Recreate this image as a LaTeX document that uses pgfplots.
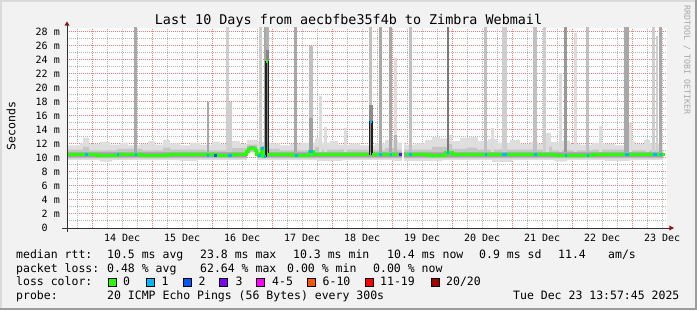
\documentclass[border=0pt]{standalone}
\usepackage{fontspec}
\setmainfont{DejaVu Sans Mono}
\usepackage{pgfplots}
\pgfplotsset{compat=1.18}
\definecolor{bgc}{HTML}{F2F2F2}
\definecolor{shadeA}{HTML}{DADADA}
\definecolor{shadeB}{HTML}{9C9C9C}
\definecolor{axcol}{HTML}{333333}
\definecolor{arrcol}{HTML}{8C1414}
\definecolor{majgridcol}{HTML}{EE7C7C}
\definecolor{mingridcol}{HTML}{B4B4B4}
\definecolor{smokeL}{HTML}{DEDEDE}
\definecolor{smokeM}{HTML}{C6C6C6}
\definecolor{smokeD}{HTML}{A2A2A2}
\definecolor{spkA}{HTML}{A8A8A8}
\definecolor{spkB}{HTML}{C0C0C0}
\definecolor{spkC}{HTML}{CECECE}
\definecolor{spkD}{HTML}{DCDCDC}
\definecolor{spkE}{HTML}{7A7A7A}
\definecolor{lc0}{HTML}{26FF00}
\definecolor{lc1}{HTML}{00B8FF}
\definecolor{lc2}{HTML}{0059FF}
\definecolor{lc3}{HTML}{7E00FF}
\definecolor{lc5}{HTML}{FF00FF}
\definecolor{lc10}{HTML}{FF5500}
\definecolor{lc19}{HTML}{FF0000}
\definecolor{lc20}{HTML}{A10000}
\newcommand{\tickfont}{\fontsize{10bp}{12bp}\selectfont}
\newcommand{\lgfont}{\fontsize{11.5bp}{14bp}\selectfont}
\newcommand{\ttlfont}{\fontsize{13.4bp}{16bp}\selectfont}
\begin{document}
\begin{tikzpicture}[x=1bp,y=1bp]
\fill[bgc] (0,0) rectangle (697,310);
\fill[shadeA] (0,308) rectangle (697,310);
\fill[shadeA] (0,0) rectangle (2,310);
\fill[shadeB] (0,0) rectangle (697,2);
\fill[shadeB] (695,0) rectangle (697,310);
% canvas and grid (behind the data)
\fill[white] (67,82) rectangle (667,282);
\foreach \k in {1,3,...,27}{\draw[mingridcol, line width=1bp, dash pattern=on 1bp off 1bp] (67,{82.5+7*\k}) -- (667,{82.5+7*\k});}
\foreach \xx in {77.5,107.5,122.5,137.5,167.5,182.5,197.5,227.5,242.5,257.5,287.5,302.5,317.5,347.5,362.5,377.5,407.5,422.5,437.5,467.5,482.5,497.5,527.5,542.5,557.5,587.5,602.5,617.5,647.5,662.5}{\draw[mingridcol, line width=1bp, dash pattern=on 1bp off 1bp] (\xx,82) -- (\xx,282);}
\foreach \k in {2,4,...,28}{\draw[majgridcol, line width=1bp, dash pattern=on 1bp off 1bp] (67,{82.5+7*\k}) -- (667,{82.5+7*\k});}
\foreach \xx in {92.5,152.5,212.5,272.5,332.5,392.5,452.5,512.5,572.5,632.5}{\draw[majgridcol, line width=1bp, dash pattern=on 1bp off 1bp] (\xx,82) -- (\xx,282);}
\begin{axis}[
  name=ax,
  at={(67bp,82bp)}, anchor=south west,
  scale only axis, width=600bp, height=200bp,
  xmin=0, xmax=240, ymin=0, ymax=28.5714,
  axis line style={draw=none},
  no markers,
  unbounded coords=jump,
  clip mode=individual,
  /pgf/number format/assume math mode=true,
  xtick={22.04,46.04,70.04,94.04,118.04,142.04,166.04,190.04,214.04,238.04},
  xticklabels={14 Dec,15 Dec,16 Dec,17 Dec,18 Dec,19 Dec,20 Dec,21 Dec,22 Dec,23 Dec},
  ytick={0,2,4,6,8,10,12,14,16,18,20,22,24,26,28},
  yticklabels={0\phantom{00},2 m,4 m,6 m,8 m,10 m,12 m,14 m,16 m,18 m,20 m,22 m,24 m,26 m,28 m},
  major tick length=0pt, minor tick length=0pt,
  xticklabel style={font=\tickfont, anchor=north, inner sep=0pt, yshift=-6bp},
  yticklabel style={font=\tickfont, anchor=east, inner sep=0pt, xshift=-7bp},
]
% ---- smoke: light band (upper edge, then lower edge backwards)
\addplot[fill=smokeL, draw=none, const plot] coordinates {
(0,11.8) (5.2,12.1) (6.4,12.9) (8.8,12.0) (13.2,12.3) (17.2,11.9) (21.2,12.2) (24.4,11.8)
(29.2,12.0) (32.4,12.4) (35.2,11.9) (38.4,12.6) (41.2,12.1) (45.2,11.8) (49.2,12.2) (53.2,11.9)
(58.0,12.3) (61.2,12.0) (66.0,12.4) (69.2,12.0) (72.0,12.6) (76.0,12.3) (81.2,12.1) (85.2,11.8)
(89.2,12.0) (93.2,12.2) (99.2,12.8) (102.0,12.2) (105.2,12.4) (108.4,11.9) (113.2,12.1) (117.2,11.8)
(123.2,12.1) (127.2,12.6) (132.4,12.2) (135.2,11.9) (139.2,12.1) (143.2,12.6) (146.0,13.0) (149.2,12.8)
(152.0,13.3) (154.0,12.4) (157.2,12.9) (161.2,13.0) (164.4,12.4) (168.4,12.7) (172.0,12.2) (177.2,12.6)
(181.2,12.0) (185.2,12.3) (188.4,12.0) (192.4,13.6) (193.6,12.3) (197.2,12.5) (201.2,12.0) (205.2,11.9)
(210.0,12.2) (214.8,12.0) (219.2,11.8) (223.2,12.4) (227.2,12.0) (230.8,12.6) (233.2,12.1) (238.4,12.1)
(238.4,9.7) (225,9.6) (215,9.7) (200,9.5) (195,9.7) (178,9.45) (170,9.7) (150,9.6) (130,9.75)
(110,9.6) (100,9.7) (76,10.85) (71.9,9.75) (52,9.6) (45,9.7) (18,9.5) (13,9.7) (0,9.7)};
% ---- smoke: middle band
\addplot[fill=smokeM, draw=none, const plot] coordinates {
(0,11.2) (6.4,11.6) (8.8,11.1) (20,11.3) (30,11.1) (38.4,11.5) (41.2,11.2) (55,11.1) (66,11.4)
(72,11.9) (76,11.3) (85,11.1) (99.2,11.6) (102,11.2) (120,11.1) (127.2,11.4) (132,11.2) (146,11.6)
(152,12.0) (154,11.3) (160,11.5) (164,11.2) (180,11.2) (192.4,11.6) (194,11.1) (210,11.2)
(223.2,11.4) (226,11.1) (238.4,11.1)
(238.4,9.95) (76,10.8) (71.9,9.95) (0,9.95)};
% ---- smoke: dark core
\addplot[fill=smokeD, draw=none, const plot] coordinates {
(0,10.8) (71.9,11.2) (72.6,11.7) (75.2,11.4) (75.9,10.8) (77.6,11.7) (78.6,10.8) (238.4,10.8)
(238.4,10.1) (75.9,10.8) (75.2,11.1) (72.6,10.7) (71.9,10.1) (0,10.1)};
% ---- smoke spikes
\addplot[draw=spkA, line width=3bp] coordinates {
(27.4,10.8) (27.4,30) (27.4,nan) (79.4,10.8) (79.4,30) (79.4,nan) (91.4,10.8) (91.4,30) (91.4,nan)
(125.4,10.8) (125.4,30) (125.4,nan) (129.4,10.8) (129.4,30) (129.4,nan) (237.4,10.8) (237.4,30)};
\addplot[draw=spkA, line width=2.5bp] coordinates {(56.4,10.8) (56.4,18.0)};
\addplot[draw=spkA, line width=5bp] coordinates {(223.8,10.8) (223.8,30)};
\addplot[draw=black!40, line width=3bp] coordinates {(199.4,10.8) (199.4,30)};
\addplot[draw=spkB, line width=3bp] coordinates {
(121.4,10.8) (121.4,30) (121.4,nan) (137.4,10.8) (137.4,30) (137.4,nan) (167.4,10.8) (167.4,30) (167.4,nan)
(208.2,10.8) (208.2,30)};
\addplot[draw=spkB, line width=4bp] coordinates {(97.6,10.8) (97.6,26.0)};
\addplot[draw=spkB, line width=3.5bp] coordinates {(187.2,10.8) (187.2,30)};
\addplot[draw=spkC, line width=3bp] coordinates {
(64.2,10.8) (64.2,30) (64.2,nan) (65.4,10.8) (65.4,18.0) (65.4,nan) (77.4,10.8) (77.4,30) (77.4,nan)
(190.8,10.8) (190.8,30) (190.8,nan) (234.6,10.8) (234.6,30)};
\addplot[draw=spkC, line width=2bp] coordinates {(235.8,10.8) (235.8,27.4)};
\addplot[draw=spkC, line width=5bp] coordinates {(175.0,10.8) (175.0,30)};
\addplot[draw=spkD, line width=3bp] coordinates {
(101.4,10.8) (101.4,18.9) (101.4,nan) (103.4,10.8) (103.4,14.5) (103.4,nan) (111.4,10.8) (111.4,14.3) (111.4,nan)
(131.4,10.8) (131.4,24.3) (131.4,nan) (170.2,10.8) (170.2,14.3) (170.2,nan) (192.0,10.8) (192.0,13.6) (192.0,nan)
(197.2,10.8) (197.2,22.1) (197.2,nan) (203.4,10.8) (203.4,27.8) (203.4,nan) (213.4,10.8) (213.4,14.6) (213.4,nan)
(225.4,10.8) (225.4,15.2) (225.4,nan) (232.0,10.8) (232.0,12.6)};
\addplot[draw=spkE, line width=2bp] coordinates {(152.4,10.8) (152.4,30)};
% darker lower parts of some spikes
\addplot[draw=black!37, line width=4bp] coordinates {(97.6,10.8) (97.6,15.7)};
\addplot[draw=black!27, line width=3bp] coordinates {(131.4,10.8) (131.4,13.3)};
\addplot[draw=black!30, line width=3.5bp] coordinates {(80.1,25.4) (80.1,30)};
\addplot[draw=black!48, line width=3.5bp] coordinates {(80.1,10.8) (80.1,25.4)};
\addplot[draw=black!45, line width=3.5bp] coordinates {(121.5,10.8) (121.5,17.6)};
% missing data
\addplot[draw=white, line width=2.4bp] coordinates {(134.5,9.3) (134.5,13.0)};
% ---- median rtt (black outline line)
\addplot[const plot, draw=black!88, line width=1.2bp] coordinates {
(0,10.45) (7.2,10.5) (12,10.4) (20,10.45) (30,10.4) (40,10.5) (50,10.45) (60,10.4) (66,10.45)
(71.9,10.9) (72.6,11.4) (75.2,11.1) (75.9,10.45) (76.5,10.4) (77.6,11.4) (78.6,10.25) (79.6,23.8)
(80.5,10.45) (90,10.4) (96.8,11.0) (98.4,10.45) (110,10.5) (121.0,15.2) (122.0,10.45) (130,10.5)
(133.9,10.5) (134.0,nan) (135.0,10.45) (145,10.4) (151.2,10.8) (154.0,10.45) (165,10.5) (180,10.45)
(195,10.4) (210,10.45) (225,10.5) (238.4,10.45)};
% ---- median coloured by loss: 0 lost
\addplot[const plot, draw=lc0, line width=3bp] coordinates {
(0,10.45) (7.2,10.5) (12,10.4) (20,10.45) (30,10.4) (40,10.5) (50,10.45) (60,10.4) (66,10.45)
(71.9,10.9) (72.6,11.4) (75.2,11.1) (75.9,10.45) (76.5,10.4) (77.6,11.4) (78.6,10.25) (79.55,10.25) (79.6,nan)
(80.5,10.45) (90,10.4) (96.8,11.0) (98.4,10.45) (110,10.5) (120.95,10.5) (121.0,nan) (122.0,10.45) (130,10.5)
(133.9,10.5) (134.0,nan) (135.0,10.45) (145,10.4) (151.2,10.8) (154.0,10.45) (165,10.5) (180,10.45)
(195,10.4) (210,10.45) (225,10.5) (238.4,10.45)};
\addplot[draw=lc0, line width=3bp] coordinates {(79.6,23.8) (80.5,23.8)};
% 1 lost
\addplot[draw=lc1, line width=3bp] coordinates {
(7.2,10.5) (8.2,10.5) (8.2,nan) (20.0,10.45) (20.8,10.45) (20.8,nan) (27.0,10.45) (28.0,10.45) (28.0,nan)
(56.0,10.4) (56.8,10.4) (56.8,nan) (64.4,10.4) (66.0,10.4) (66.0,nan)
(76.5,10.4) (77.6,10.4) (77.6,nan) (77.6,11.4) (78.6,11.4) (78.6,nan) (78.6,10.25) (79.6,10.25) (79.6,nan)
(91.2,10.4) (92.4,10.4) (92.4,nan) (96.8,11.0) (98.4,11.0) (98.4,nan) (121.0,15.2) (122.0,15.2) (122.0,nan)
(124.8,10.5) (126.0,10.5) (126.0,nan) (129.2,10.45) (130.0,10.45) (130.0,nan) (136.8,10.45) (138.0,10.45) (138.0,nan)
(152.0,10.8) (152.8,10.8) (152.8,nan) (167.2,10.5) (168.0,10.5) (168.0,nan) (174.0,10.5) (176.0,10.5) (176.0,nan)
(186.8,10.45) (188.0,10.45) (188.0,nan) (199.2,10.4) (200.0,10.4) (200.0,nan) (208.0,10.4) (208.8,10.4) (208.8,nan)
(223.2,10.45) (224.8,10.45) (224.8,nan) (234.4,10.5) (236.0,10.5) (236.0,nan) (237.2,10.5) (238.0,10.5)};
% 2 lost
\addplot[draw=lc2, line width=3bp] coordinates {(58.8,10.4) (60.0,10.4)};
% 3 lost
\addplot[draw=lc3, line width=3bp] coordinates {(132.8,10.5) (133.9,10.5)};
\end{axis}
% axis lines and arrows
\draw[axcol, line width=1bp] (62,82) -- (670,82);
\draw[axcol, line width=1bp] (67,78) -- (67,285);
\fill[arrcol] (64.5,284.3) -- (69.5,284.3) -- (67,288.6) -- cycle;
\fill[arrcol] (669.3,79.5) -- (669.3,84.5) -- (674,82) -- cycle;
% titles
\node[anchor=base, inner sep=0pt, font=\ttlfont] at (348.5,286) {Last 10 Days from aecbfbe35f4b to Zimbra Webmail};
\node[rotate=90, inner sep=0pt, font=\lgfont] at (11,184) {Seconds};
\node[rotate=-90, inner sep=0pt, font=\fontsize{8.3bp}{10bp}\selectfont, text=black!35] at (687,250) {RRDTOOL / TOBI OETIKER};
% legend
\begin{scope}[every node/.style={anchor=base west, inner sep=0pt, font=\lgfont}]
\node at (16,51.7) {median rtt:};
\node at (107,51.7) {10.5 ms avg};
\node at (200,51.7) {23.8 ms max};
\node at (293,51.7) {10.3 ms min};
\node at (387,51.7) {10.4 ms now};
\node at (479,51.7) {0.9 ms sd};
\node at (558,51.7) {11.4};
\node at (608,51.7) {am/s};
\node at (16,38) {packet loss:};
\node at (107,38) {0.48 \% avg};
\node at (200,38) {62.64 \% max};
\node at (287,38) {0.00 \% min};
\node at (373,38) {0.00 \% now};
\node at (16,24.3) {loss color:};
\node at (123,24.3) {0};
\node at (161.5,24.3) {1};
\node at (198.5,24.3) {2};
\node at (235.5,24.3) {3};
\node at (272,24.3) {4-5};
\node at (322.5,24.3) {6-10};
\node at (380,24.3) {11-19};
\node at (446,24.3) {20/20};
\node at (16,10.6) {probe:};
\node at (107,10.6) {20 ICMP Echo Pings (56 Bytes) every 300s};
\node at (513,10.6) {Tue Dec 23 13:57:45 2025};
\end{scope}
\foreach \bx/\bc in {108.5/lc0,146/lc1,183/lc2,219.5/lc3,256.5/lc5,307/lc10,365.5/lc19,431.5/lc20}{
  \filldraw[fill=\bc, draw=black, line width=0.9bp] (\bx,23.5) rectangle ++(8,8.5);
}
\end{tikzpicture}
\end{document}
